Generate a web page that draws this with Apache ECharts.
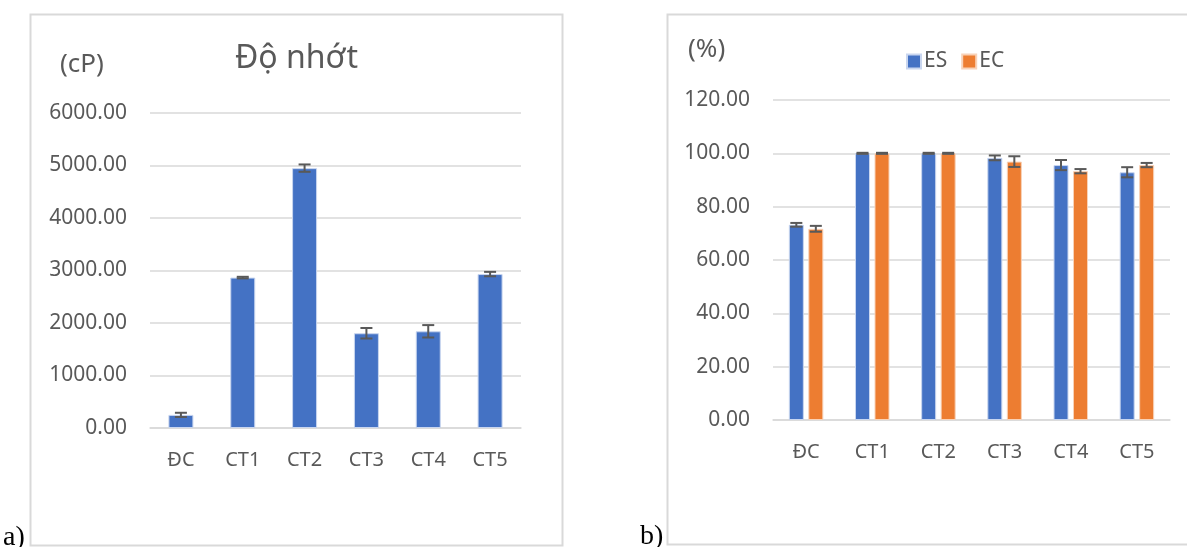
<!DOCTYPE html>
<html>
<head>
<meta charset="utf-8">
<script src="https://cdn.jsdelivr.net/npm/echarts@6/dist/echarts.min.js"></script>
<style>
  html, body { margin: 0; padding: 0; background: #fff; }
  #chart { width: 1187px; height: 547px; }
</style>
</head>
<body>
<div id="chart"></div>
<script>
// Categories shared by both panels
const categories = ['ĐC', 'CT1', 'CT2', 'CT3', 'CT4', 'CT5'];

// Panel a) viscosity (cP) with standard deviation
const viscosity = [250, 2865, 4950, 1805, 1842, 2932];
const viscosityErr = [40, 15, 70, 100, 118, 42];
const viscosityTicks = [0, 1000, 2000, 3000, 4000, 5000, 6000];

// Panel b) ES / EC (%) with standard deviation
const esValues = [73.2, 100, 100, 98.3, 95.6, 92.9];
const esErr = [0.7, 0.2, 0.2, 0.9, 1.9, 1.9];
const ecValues = [71.7, 100, 100, 96.9, 93.3, 95.6];
const ecErr = [1.1, 0.2, 0.2, 2.0, 0.8, 0.8];
const percentTicks = [0, 20, 40, 60, 80, 100, 120];

const textColor = '#595959';
const gridColor = '#d9d9d9';
const blue = '#4472C4';
const orange = '#ED7D31';
const font = 'Noto Sans';

const chart = echarts.init(document.getElementById('chart'), null, { renderer: 'canvas' });

// Error bar drawer: offset shifts the whisker to the matching bar in a group
function errorBars(values, errs, offset, capHalf) {
  return function (params, api) {
    const i = params.dataIndex;
    const top = api.coord([i, values[i] + errs[i]]);
    const bot = api.coord([i, values[i] - errs[i]]);
    const x = top[0] + offset;
    const style = { stroke: textColor, lineWidth: 2 };
    return {
      type: 'group',
      children: [
        { type: 'line', shape: { x1: x, y1: top[1], x2: x, y2: bot[1] }, style },
        { type: 'line', shape: { x1: x - capHalf, y1: top[1], x2: x + capHalf, y2: top[1] }, style },
        { type: 'line', shape: { x1: x - capHalf, y1: bot[1], x2: x + capHalf, y2: bot[1] }, style }
      ]
    };
  };
}

function yAxis(gridIndex, ticks) {
  return {
    type: 'value', gridIndex,
    min: ticks[0], max: ticks[ticks.length - 1], interval: ticks[1] - ticks[0],
    axisLine: { show: false }, axisTick: { show: false },
    splitLine: { lineStyle: { color: gridColor, width: 1.5 } },
    axisLabel: { color: textColor, fontSize: 21, fontFamily: font, margin: 23,
      formatter: v => v.toFixed(2) }
  };
}

function xAxis(gridIndex) {
  return {
    type: 'category', gridIndex, data: categories,
    axisLine: { lineStyle: { color: gridColor, width: 1.5 } },
    axisTick: { show: false },
    axisLabel: { color: textColor, fontSize: 20, fontFamily: font, margin: 22 }
  };
}

function caption(text, x, y, size, color, family) {
  return { type: 'text', x, y,
    style: { text, fill: color, font: size + 'px "' + family + '"' } };
}

const option = {
  animation: false,
  graphic: [
    { type: 'rect', shape: { x: 30.5, y: 14.5, width: 532, height: 531 },
      style: { fill: 'none', stroke: gridColor, lineWidth: 2 } },
    { type: 'rect', shape: { x: 667.5, y: 14.5, width: 530, height: 530 },
      style: { fill: 'none', stroke: gridColor, lineWidth: 2 } },
    caption('(cP)', 60, 52, 26, textColor, font),
    caption('Độ nhớt', 235, 43, 32, textColor, font),
    caption('(%)', 688, 37, 26, textColor, font),
    caption('a)', 3, 524, 28, '#000', 'Liberation Serif'),
    caption('b)', 640, 523, 28, '#000', 'Liberation Serif')
  ],
  legend: {
    data: ['ES', 'EC'], left: 901, top: 46,
    itemWidth: 14, itemHeight: 14, itemGap: 14, icon: 'rect',
    textStyle: { color: textColor, fontSize: 21, fontFamily: font, padding: [0, 0, 0, -2] }
  },
  grid: [
    { left: 150, right: 666, top: 113, bottom: 119 },
    { left: 773, right: 17, top: 100, bottom: 127 }
  ],
  xAxis: [xAxis(0), xAxis(1)],
  yAxis: [yAxis(0, viscosityTicks), yAxis(1, percentTicks)],
  series: [
    { name: 'Độ nhớt', type: 'bar', xAxisIndex: 0, yAxisIndex: 0, data: viscosity,
      barWidth: 25, itemStyle: { color: blue, borderColor: '#c9d6ef', borderWidth: 1 } },
    { type: 'custom', xAxisIndex: 0, yAxisIndex: 0, data: viscosity, z: 5,
      renderItem: errorBars(viscosity, viscosityErr, 0, 6) },
    { name: 'ES', type: 'bar', xAxisIndex: 1, yAxisIndex: 1, data: esValues,
      barWidth: 15, barGap: '30%', itemStyle: { color: blue, borderColor: '#c9d6ef', borderWidth: 1 } },
    { name: 'EC', type: 'bar', xAxisIndex: 1, yAxisIndex: 1, data: ecValues,
      barWidth: 15, barGap: '30%', itemStyle: { color: orange, borderColor: '#f8d2b8', borderWidth: 1 } },
    { type: 'custom', xAxisIndex: 1, yAxisIndex: 1, data: esValues, z: 5,
      renderItem: errorBars(esValues, esErr, -9.75, 6) },
    { type: 'custom', xAxisIndex: 1, yAxisIndex: 1, data: ecValues, z: 5,
      renderItem: errorBars(ecValues, ecErr, 9.75, 6) }
  ]
};

chart.setOption(option);
</script>
</body>
</html>
